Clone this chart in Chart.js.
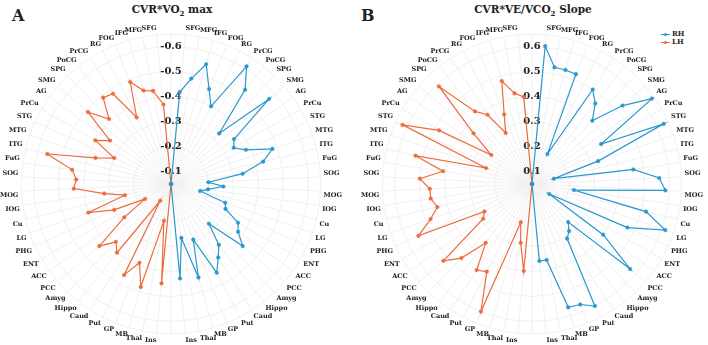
<!DOCTYPE html>
<html lang="en">
<head>
<meta charset="UTF-8">
<title>CVR radar plots</title>
<script src="https://cdn.jsdelivr.net/npm/chart.js"></script>
<style>
  body { margin: 0; background: #fff; width: 708px; height: 345px; position: relative; overflow: hidden;
         font-family: 'DejaVu Serif', serif; color: #222; }
  .panel { position: absolute; }
  .letter { position: absolute; font-weight: bold; font-size: 16px; }
  .title { position: absolute; font-weight: bold; font-size: 10.5px; text-align: center; width: 240px; }
  .title sub { font-size: 7px; }
  .legend { position: absolute; font-size: 7px; font-weight: bold; line-height: 8px; }
  .legend div { position: relative; padding-left: 11px; }
  .legend i { position: absolute; left: 0; top: 4px; width: 9px; border-top: 1px solid; }
  .legend i::after { content: ''; position: absolute; left: 3px; top: -2.5px; width: 3px; height: 3px; border-radius: 50%; background: currentColor; }
</style>
</head>
<body>
  <div class="letter" style="left:12px;top:6px">A</div>
  <div class="title" style="left:52px;top:3px">CVR*VO<sub>2</sub> max</div>
  <div class="letter" style="left:361px;top:6px">B</div>
  <div class="title" style="left:413px;top:3px">CVR*VE/VCO<sub>2</sub> Slope</div>
  <div class="legend" style="left:661px;top:30px">
    <div style="color:#2a98cc"><i></i><span style="color:#222">RH</span></div>
    <div style="color:#ee6b3d"><i></i><span style="color:#222">LH</span></div>
  </div>

  <div class="panel" style="left:0;top:24px;width:343px;height:322px"><canvas id="chartA"></canvas></div>
  <div class="panel" style="left:361px;top:24px;width:343px;height:322px"><canvas id="chartB"></canvas></div>

<script>
// brain regions, in order SFG (top) -> Ins (bottom) for each hemisphere
const regions = ['SFG','MFG','IFG','FOG','RG','PrCG','PoCG','SPG','SMG','AG','PrCu','STG','MTG','ITG','FuG',
  'SOG','MOG','IOG','Cu','LG','PHG','ENT','ACC','PCC','Amyg','Hippo','Caud','Put','GP','MB','Thal','Ins'];

// panel A: CVR*VO2 max (negative correlations)
const aRH = [-0.42,-0.48,-0.55,-0.46,-0.40,-0.61,-0.53,-0.33,-0.57,-0.36,-0.34,-0.38,-0.48,-0.43,-0.34,
  -0.20,-0.26,-0.20,-0.17,-0.28,-0.29,-0.36,-0.38,-0.43,-0.27,-0.36,-0.40,-0.45,-0.29,-0.44,-0.27,-0.43];
const aLH = [-0.37,-0.43,-0.44,-0.49,-0.35,-0.48,-0.49,-0.41,-0.49,-0.35,-0.40,-0.30,-0.37,-0.56,-0.45,
  -0.43,-0.44,-0.32,-0.24,-0.40,-0.30,-0.17,-0.28,-0.43,-0.37,-0.40,-0.13,-0.46,-0.39,-0.48,-0.20,-0.45];
const aTicks = [-0.1,-0.2,-0.3,-0.4,-0.5,-0.6];
const aRange = [-0.65, -0.05];   // centre of the plot is -0.05

// panel B: CVR*VE/VCO2 slope
const bRH = [0.605,0.526,0.526,0.524,0.185,0.50,0.46,0.40,0.53,0.64,0.37,0.63,0.33,0.14,0.46,
  0.56,0.585,0.22,0.52,0.615,0.47,0.13,0.40,0.57,0.26,0.29,0.31,0.60,0.57,0.565,0.36,0.36];
const bLH = [0.40,0.42,0.48,0.35,0.28,0.38,0.42,0.59,0.36,0.25,0.48,0.62,0.245,0.53,0.41,
  0.50,0.46,0.46,0.44,0.48,0.55,0.27,0.29,0.52,0.46,0.35,0.46,0.445,0.60,0.21,0.29,0.40];
const bTicks = [0.1,0.2,0.3,0.4,0.5,0.6];
const bRange = [0.05, 0.65];

const blue = '#2a98cc';
const orange = '#ee6b3d';
const labelFont = 'DejaVu Serif';

// 66 spokes: blank top, RH clockwise, blank bottom, LH clockwise back up
const axisLabels = [''].concat(regions, [''], regions.slice().reverse());
const gap = regions.map(() => null);

function makeRadar(id, rh, lh, ticks, range, reverse) {
  const centre = reverse ? range[1] : range[0];
  const rhData = [centre].concat(rh, [centre], gap);
  const lhData = [centre].concat(gap, [centre], lh.slice().reverse());
  const ds = (label, data, color) => ({
    label: label, data: data, borderColor: color, backgroundColor: color,
    pointBackgroundColor: color, pointBorderColor: color, pointRadius: 1.8, pointBorderWidth: 0.5,
    borderWidth: 1.2, fill: false, spanGaps: true, tension: 0
  });
  return new Chart(document.getElementById(id), {
    type: 'radar',
    data: { labels: axisLabels, datasets: [ds('RH', rhData, blue), ds('LH', lhData, orange)] },
    options: {
      responsive: true, maintainAspectRatio: false, animation: false,
      plugins: { legend: { display: false }, tooltip: { enabled: false } },
      scales: {
        r: {
          min: range[0], max: range[1], reverse: reverse, startAngle: 0,
          afterBuildTicks: s => {
            s.ticks = [s.min].concat(ticks, [s.max]).map(v => ({ value: v }));
          },
          ticks: {
            callback: v => ticks.includes(v) ? v.toFixed(1) : '',
            font: { family: labelFont, weight: 'bold', size: 10 }, color: '#222',
            showLabelBackdrop: false
          },
          grid: { circular: true, color: '#f0f0f0' },
          angleLines: { color: '#f0f0f0' },
          pointLabels: { font: { family: labelFont, weight: 'bold', size: 6.5 }, color: '#222', padding: -4 }
        }
      }
    }
  });
}

makeRadar('chartA', aRH, aLH, aTicks, aRange, true);
makeRadar('chartB', bRH, bLH, bTicks, bRange, false);
</script>
</body>
</html>
